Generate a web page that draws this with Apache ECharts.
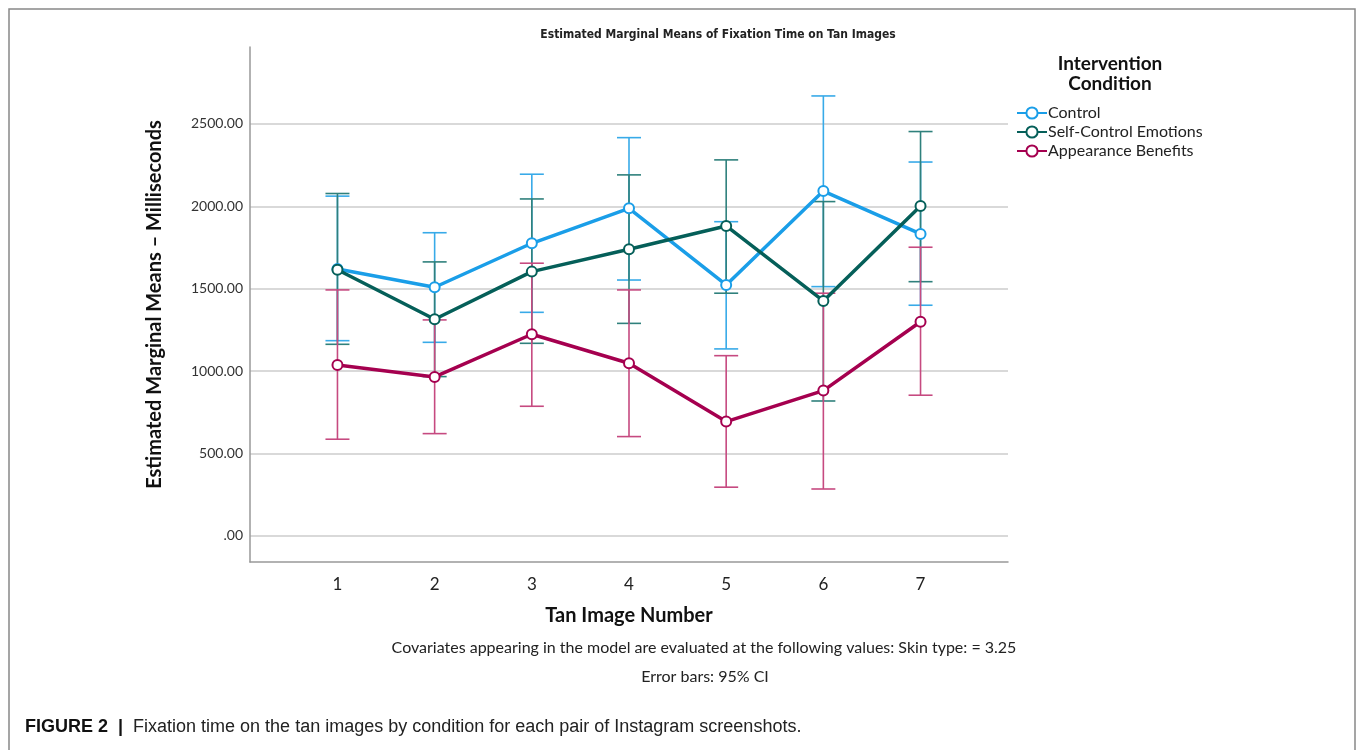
<!DOCTYPE html>
<html>
<head>
<meta charset="utf-8">
<script src="https://cdn.jsdelivr.net/npm/echarts@6/dist/echarts.min.js"></script>
<style>
  html, body { margin: 0; padding: 0; background: #fff; }
  #chart { width: 1357px; height: 750px; }
</style>
</head>
<body>
<div id="chart"></div>
<script>
// tan image numbers (x axis)
var imageNumbers = [1, 2, 3, 4, 5, 6, 7];
var yTicks = [0, 500, 1000, 1500, 2000, 2500];

// Control
var controlMean = [1620, 1509, 1776, 1988, 1523, 2093, 1833];
var controlLow = [1185, 1175, 1357, 1553, 1135, 1513, 1400];
var controlHigh = [2062, 1840, 2195, 2417, 1907, 2670, 2269];

// Self-Control Emotions
var selfMean = [1615, 1315, 1604, 1740, 1881, 1426, 2002];
var selfLow = [1163, 967, 1169, 1290, 1473, 819, 1543];
var selfHigh = [2078, 1663, 2045, 2191, 2282, 2029, 2454];

// Appearance Benefits
var appMean = [1038, 965, 1224, 1048, 694, 882, 1300];
var appLow = [587, 621, 787, 603, 296, 285, 854];
var appHigh = [1493, 1311, 1655, 1493, 1094, 1473, 1752];

var chart = echarts.init(document.getElementById('chart'));

function pairs(means) {
    return imageNumbers.map(function (x, i) { return [x, means[i]]; });
}
function bars(low, high) {
    return imageNumbers.map(function (x, i) { return [x, low[i], high[i]]; });
}

function errorSeries(name, low, high, color) {
    return {
        name: name + ' CI',
        type: 'custom',
        data: bars(low, high),
        z: 2,
        renderItem: function (params, api) {
            var top = api.coord([api.value(0), api.value(2)]);
            var bot = api.coord([api.value(0), api.value(1)]);
            var hw = 12;
            var st = { stroke: color, lineWidth: 1.6 };
            return {
                type: 'group',
                children: [
                    { type: 'line', shape: { x1: top[0], y1: top[1], x2: bot[0], y2: bot[1] }, style: st },
                    { type: 'line', shape: { x1: top[0] - hw, y1: top[1], x2: top[0] + hw, y2: top[1] }, style: st },
                    { type: 'line', shape: { x1: bot[0] - hw, y1: bot[1], x2: bot[0] + hw, y2: bot[1] }, style: st }
                ]
            };
        }
    };
}

function lineSeries(name, means, color) {
    return {
        name: name,
        type: 'line',
        data: pairs(means),
        z: 3,
        symbol: 'emptyCircle',
        symbolSize: 10,
        color: color,
        lineStyle: { color: color, width: 3.5 },
        itemStyle: { color: color, borderWidth: 1.5 }
    };
}

var option = {
    animation: false,
    backgroundColor: '#fff',
    textStyle: { fontFamily: 'Lato' },
    grid: { left: 250, right: 349, top: 47, bottom: 188 },
    legend: {
        orient: 'vertical',
        left: 1011,
        top: 100,
        itemWidth: 30,
        itemHeight: 14,
        itemGap: 3,
        textStyle: { fontSize: 16, color: '#222', fontFamily: 'Lato', padding: [0, 0, 0, -4] },
        data: ['Control', 'Self-Control Emotions', 'Appearance Benefits']
    },
    xAxis: {
        type: 'value',
        min: 0.1,
        max: 7.9,
        axisLine: { show: true, onZero: false, lineStyle: { color: '#999', width: 1.5 } },
        axisTick: { show: false },
        splitLine: { show: false },
        axisLabel: { customValues: imageNumbers, fontSize: 17, color: '#222', margin: 14 },
        name: 'Tan Image Number',
        nameLocation: 'middle',
        nameGap: 44,
        nameTextStyle: { fontSize: 20, fontWeight: 'bold', color: '#111' }
    },
    yAxis: {
        type: 'value',
        min: -158,
        max: 2967,
        axisLine: { show: true, lineStyle: { color: '#999', width: 1.5 } },
        axisTick: { show: false, customValues: yTicks },
        splitLine: { show: true, lineStyle: { color: '#ccc', width: 1.5 } },
        axisLabel: {
            customValues: yTicks,
            fontSize: 14,
            color: '#333',
            margin: 7,
            formatter: function (v) { return v === 0 ? '.00' : v.toFixed(2); }
        },
        name: 'Estimated Marginal Means \u2013 Milliseconds',
        nameLocation: 'middle',
        nameGap: 85,
        nameTextStyle: { fontSize: 20, fontWeight: 'bold', color: '#111' }
    },
    graphic: [
        { type: 'rect', shape: { x: 9, y: 9, width: 1346, height: 760 }, style: { fill: 'none', stroke: '#888', lineWidth: 1.5 }, z: -1 },
        { type: 'text', x: 718, y: 29, style: { text: 'Estimated Marginal Means of Fixation Time on Tan Images', font: 'bold 12px "DejaVu Sans Condensed"', fill: '#222', textAlign: 'center' } },
        { type: 'text', x: 1110, y: 54, style: { text: 'Intervention\nCondition', font: 'bold 19px Lato', fill: '#111', textAlign: 'center', lineHeight: 20 } },
        { type: 'text', x: 704, y: 640, style: { text: 'Covariates appearing in the model are evaluated at the following values: Skin type: = 3.25', font: '16px Lato', fill: '#222', textAlign: 'center' } },
        { type: 'text', x: 705, y: 669, style: { text: 'Error bars: 95% CI', font: '16px Lato', fill: '#222', textAlign: 'center' } },
        { type: 'text', x: 25, y: 718, style: { rich: { b: { font: 'bold 18px "Liberation Sans"', fill: '#111' }, n: { font: '18px "Liberation Sans"', fill: '#222' } }, text: '{b|FIGURE 2  |}{n|  Fixation time on the tan images by condition for each pair of Instagram screenshots.}' } }
    ],
    series: [
        errorSeries('Control', controlLow, controlHigh, '#38aae8'),
        errorSeries('Self-Control Emotions', selfLow, selfHigh, '#2f807c'),
        errorSeries('Appearance Benefits', appLow, appHigh, '#c64a80'),
        lineSeries('Control', controlMean, '#1a9ee8'),
        lineSeries('Self-Control Emotions', selfMean, '#055f59'),
        lineSeries('Appearance Benefits', appMean, '#a5004f')
    ]
};

chart.setOption(option);
window.addEventListener('resize', function () { chart.resize(); });
</script>
</body>
</html>
